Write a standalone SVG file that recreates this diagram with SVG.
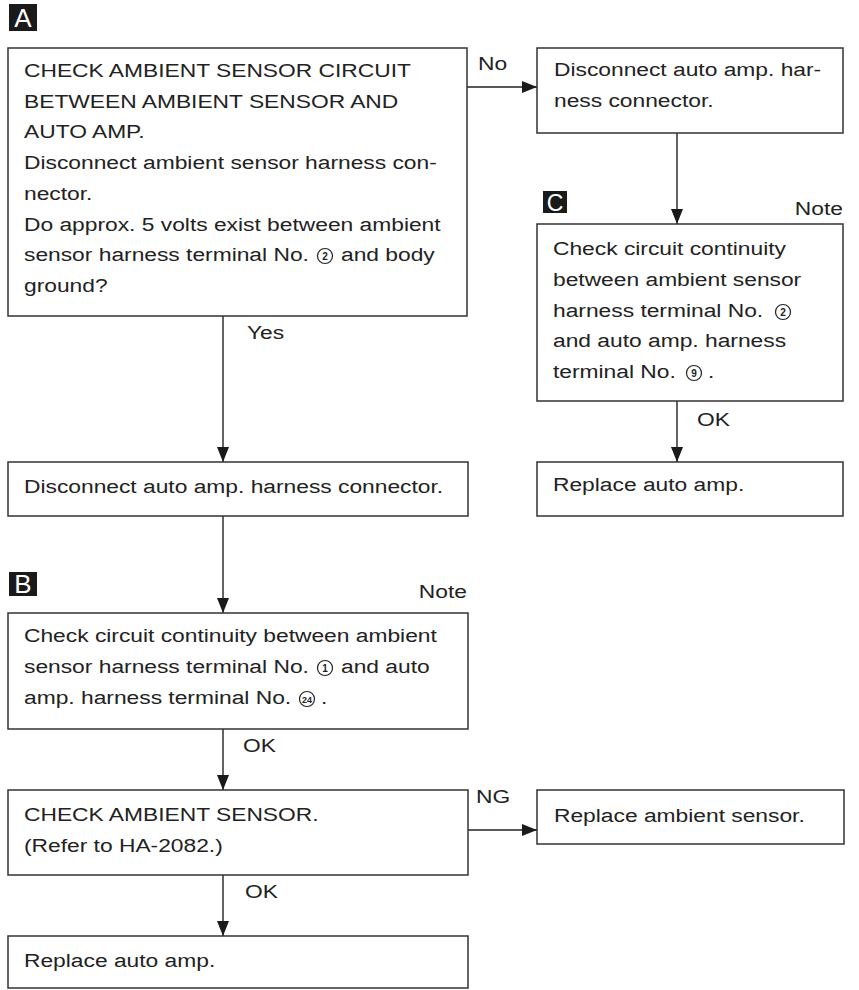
<svg xmlns="http://www.w3.org/2000/svg" width="859" height="990" viewBox="0 0 859 990">
<style>
.box{fill:#fff;stroke:#333;stroke-width:1.5}
.t{font-family:"Liberation Sans",Arial,sans-serif;font-size:19px;fill:#222}
.lbl{fill:#1a1a1a}
.lt{font-family:"Liberation Sans",Arial,sans-serif;font-size:26px;fill:#fff;text-anchor:middle}
.cn circle{fill:none;stroke:#222;stroke-width:1.2}
.cn text{font-family:"Liberation Sans",Arial,sans-serif;font-size:10px;font-weight:bold;fill:#222;text-anchor:middle}
.ln{fill:none;stroke:#222;stroke-width:1.4}
</style>
<defs>
<marker id="ah" markerUnits="userSpaceOnUse" markerWidth="15" markerHeight="12" refX="15" refY="6" orient="auto">
<path d="M0,0 L15,6 L0,12 Z" fill="#1a1a1a"/>
</marker>
</defs>

<g id="labels">
<rect class="lbl" x="9" y="4" width="28" height="27"/><text class="lt" x="23" y="27">A</text>
<rect class="lbl" x="9" y="572" width="28" height="24"/><text class="lt" x="23" y="593">B</text>
<rect class="lbl" x="543" y="191" width="24" height="22"/><text class="lt" x="555" y="211" style="font-size:23px">C</text>
</g>

<g id="connectors">
<line class="ln" x1="467" y1="87" x2="537" y2="87" marker-end="url(#ah)"/>
<line class="ln" x1="223" y1="316" x2="223" y2="462" marker-end="url(#ah)"/>
<line class="ln" x1="677" y1="133" x2="677" y2="224" marker-end="url(#ah)"/>
<line class="ln" x1="677" y1="401" x2="677" y2="462" marker-end="url(#ah)"/>
<line class="ln" x1="223" y1="516" x2="223" y2="613" marker-end="url(#ah)"/>
<line class="ln" x1="223" y1="729" x2="223" y2="790" marker-end="url(#ah)"/>
<line class="ln" x1="468" y1="830" x2="537" y2="830" marker-end="url(#ah)"/>
<line class="ln" x1="223" y1="875" x2="223" y2="936" marker-end="url(#ah)"/>
<text class="t" transform="translate(478,70) scale(1.2,1)">No</text>
<text class="t" transform="translate(247,339) scale(1.2,1)">Yes</text>
<text class="t" transform="translate(843,215) scale(1.2,1)" text-anchor="end">Note</text>
<text class="t" transform="translate(697,426) scale(1.2,1)">OK</text>
<text class="t" transform="translate(467,598) scale(1.2,1)" text-anchor="end">Note</text>
<text class="t" transform="translate(243,752) scale(1.2,1)">OK</text>
<text class="t" transform="translate(476,803) scale(1.2,1)">NG</text>
<text class="t" transform="translate(245,898) scale(1.2,1)">OK</text>
</g>

<g id="nodeA">
<rect class="box" x="8" y="48" width="459" height="268"/>
<text class="t" transform="translate(24,77) scale(1.2,1)">CHECK AMBIENT SENSOR CIRCUIT</text>
<text class="t" transform="translate(24,107.7) scale(1.2,1)">BETWEEN AMBIENT SENSOR AND</text>
<text class="t" transform="translate(24,138.4) scale(1.2,1)">AUTO AMP.</text>
<text class="t" transform="translate(24,169) scale(1.2,1)">Disconnect ambient sensor harness con-</text>
<text class="t" transform="translate(24,199.8) scale(1.2,1)">nector.</text>
<text class="t" transform="translate(24,230.5) scale(1.2,1)">Do approx. 5 volts exist between ambient</text>
<text class="t" transform="translate(24,261) scale(1.2,1)">sensor harness terminal No.</text>
<g class="cn"><circle cx="325" cy="256" r="7.5"/><text x="325" y="259.5">2</text></g>
<text class="t" transform="translate(341,261) scale(1.2,1)">and body</text>
<text class="t" transform="translate(24,292) scale(1.2,1)">ground?</text>
</g>

<g id="nodeR1">
<rect class="box" x="537" y="48" width="306" height="85"/>
<text class="t" transform="translate(554,76) scale(1.2,1)">Disconnect auto amp. har-</text>
<text class="t" transform="translate(554,107) scale(1.2,1)">ness connector.</text>
</g>

<g id="nodeC">
<rect class="box" x="537" y="224" width="306" height="177"/>
<text class="t" transform="translate(553,255) scale(1.2,1)">Check circuit continuity</text>
<text class="t" transform="translate(553,286) scale(1.2,1)">between ambient sensor</text>
<text class="t" transform="translate(553,317) scale(1.2,1)">harness terminal No.</text>
<g class="cn"><circle cx="783" cy="312" r="7.5"/><text x="783" y="315.5">2</text></g>
<text class="t" transform="translate(553,347) scale(1.2,1)">and auto amp. harness</text>
<text class="t" transform="translate(553,378) scale(1.2,1)">terminal No.</text>
<g class="cn"><circle cx="694" cy="373" r="7.5"/><text x="694" y="376.5">9</text></g>
<text class="t" transform="translate(708,378) scale(1.2,1)">.</text>
</g>

<g id="nodeR3">
<rect class="box" x="537" y="462" width="306" height="54"/>
<text class="t" transform="translate(553,491) scale(1.2,1)">Replace auto amp.</text>
</g>

<g id="nodeD">
<rect class="box" x="8" y="462" width="460" height="54"/>
<text class="t" transform="translate(24,493) scale(1.2,1)">Disconnect auto amp. harness connector.</text>
</g>

<g id="nodeB">
<rect class="box" x="8" y="613" width="460" height="116"/>
<text class="t" transform="translate(24,642) scale(1.2,1)">Check circuit continuity between ambient</text>
<text class="t" transform="translate(24,673) scale(1.2,1)">sensor harness terminal No.</text>
<g class="cn"><circle cx="325" cy="668" r="7.5"/><text x="325" y="671.5">1</text></g>
<text class="t" transform="translate(341,673) scale(1.2,1)">and auto</text>
<text class="t" transform="translate(24,704) scale(1.2,1)">amp. harness terminal No.</text>
<g class="cn"><circle cx="307" cy="699" r="7.5"/><text x="307" y="702.5" style="font-size:9px">24</text></g>
<text class="t" transform="translate(321,704) scale(1.2,1)">.</text>
</g>

<g id="nodeE">
<rect class="box" x="8" y="790" width="460" height="85"/>
<text class="t" transform="translate(24,821) scale(1.2,1)">CHECK AMBIENT SENSOR.</text>
<text class="t" transform="translate(24,852) scale(1.2,1)">(Refer to HA-2082.)</text>
</g>

<g id="nodeF">
<rect class="box" x="537" y="790" width="307" height="54"/>
<text class="t" transform="translate(554,822) scale(1.2,1)">Replace ambient sensor.</text>
</g>

<g id="nodeG">
<rect class="box" x="8" y="936" width="460" height="52"/>
<text class="t" transform="translate(24,967) scale(1.2,1)">Replace auto amp.</text>
</g>
</svg>
